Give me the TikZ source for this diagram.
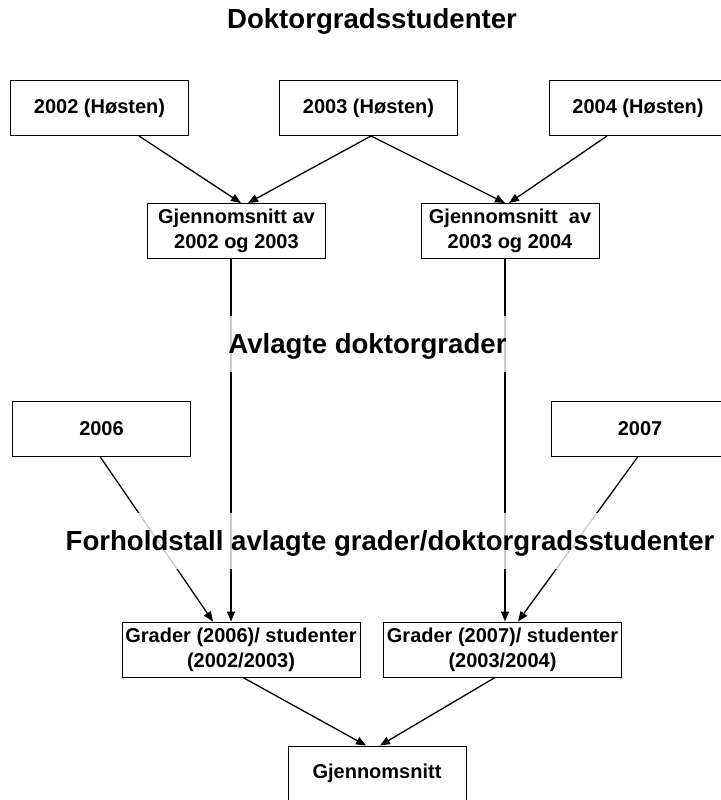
\documentclass[tikz,border=0pt]{standalone}
\usepackage{fontspec}
\setmainfont{Liberation Sans}
\usetikzlibrary{arrows.meta}
\begin{document}
\begin{tikzpicture}[x=1pt,y=-1pt,
  box/.style={draw=black, line width=1pt, fill=white, minimum width=178pt, minimum height=55pt,
    inner sep=0pt, font=\fontsize{20}{25}\selectfont\bfseries, align=center},
  widebox/.style={box, minimum width=238pt},
  biglabel/.style={font=\fontsize{27.6}{33}\selectfont\bfseries, inner xsep=2pt, inner ysep=0pt,
    text height=37pt, text depth=18.5pt, anchor=base},
  overlay/.style={biglabel, fill=white, fill opacity=0.8, text opacity=1},
  conn/.style={line width=1.3pt, -{Triangle[length=10pt,width=8pt]}}
]
\useasboundingbox (0,0) rectangle (720,800);

% top row
\node[box] (b2002) at (99.5,108) {2002 (Høsten)};
\node[box] (b2003) at (368.5,108) {2003 (Høsten)};
\node[box] (b2004) at (638,108) {2004 (Høsten)};

% averages
\node[box] (g1) at (236.5,231) {Gjennomsnitt av\\2002 og 2003};
\node[box] (g2) at (510,231) {Gjennomsnitt~ av\\2003 og 2004};

% degrees
\node[box] (b2006) at (101.5,428.5) {2006};
\node[box] (b2007) at (640,428.5) {2007};

% ratios
\node[widebox] (r1) at (241,649.5) {Grader (2006)/ studenter\\(2002/2003)};
\node[widebox] (r2) at (502.5,649.5) {Grader (2007)/ studenter\\(2003/2004)};

% final
\node[box] (fin) at (377,773.5) {Gjennomsnitt};

% connectors
\draw[conn] ([xshift=39.5pt]b2002.south) -- ([xshift=4.5pt]g1.north);
\draw[conn] ([xshift=2.5pt]b2003.south) -- ([xshift=11.5pt]g1.north);
\draw[conn] ([xshift=2.5pt]b2003.south) -- ([xshift=-5pt]g2.north);
\draw[conn] ([xshift=-31pt]b2004.south) -- ([xshift=-1pt]g2.north);

\draw[conn] ([xshift=-5.5pt]g1.south) -- ([xshift=-10pt]r1.north);
\draw[conn] ([xshift=-5pt]g2.south) -- ([xshift=2.5pt]r2.north);

\draw[conn] ([xshift=-1.5pt]b2006.south) -- ([xshift=-28pt]r1.north);
\draw[conn] ([xshift=-2pt]b2007.south) -- ([xshift=15.5pt]r2.north);

\draw[conn] ([xshift=2pt]r1.south) -- ([xshift=-11pt]fin.north);
\draw[conn] ([xshift=-7.5pt]r2.south) -- ([xshift=3pt]fin.north);

% labels
\node[biglabel] (title) at (372,28.5) {Doktorgradsstudenter};
\node[overlay] (avl) at (367.5,353) {Avlagte doktorgrader};
\node[overlay] (forh) at (390,550) {Forholdstall avlagte grader/doktorgradsstudenter};
\end{tikzpicture}
\end{document}
